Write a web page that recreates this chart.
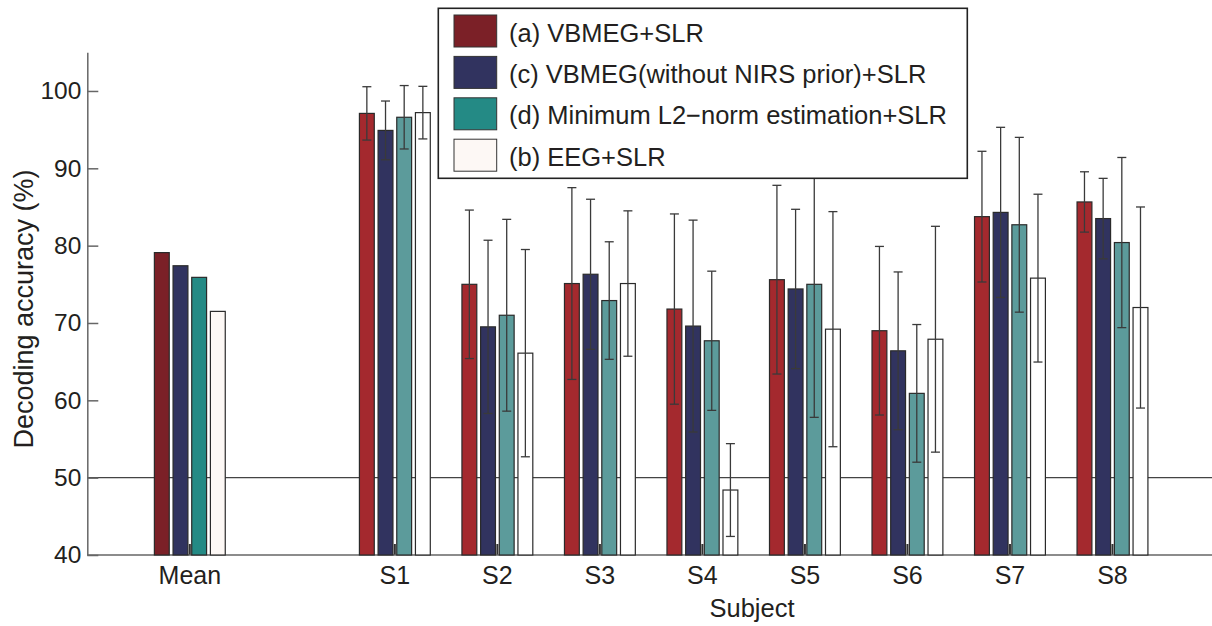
<!DOCTYPE html>
<html>
<head>
<meta charset="utf-8">
<script src="https://cdn.jsdelivr.net/npm/d3@7"></script>
<style>
  body { margin: 0; background: #fff; }
  text { font-family: 'Liberation Sans', Arial, Helvetica, sans-serif; fill: #231f20; }
</style>
</head>
<body>
<div id="chart"></div>
<script>
// categories on the x axis (the blank slot leaves the gap after Mean)
const categories = ['Mean', ' ', 'S1', 'S2', 'S3', 'S4', 'S5', 'S6', 'S7', 'S8']
const subjects = ['S1', 'S2', 'S3', 'S4', 'S5', 'S6', 'S7', 'S8']

const methods = [
  '(a) VBMEG+SLR',
  '(c) VBMEG(without NIRS prior)+SLR',
  '(d) Minimum L2\u2212norm estimation+SLR',
  '(b) EEG+SLR'
]

// mean accuracy over subjects, one per method
const meanAccuracy = [79.1, 77.4, 75.9, 71.5]

// per subject accuracy (%)
const vbmeg = [97.1, 75.0, 75.1, 71.8, 75.6, 69.0, 83.75, 85.65]
const vbmegNoPrior = [94.9, 69.5, 76.3, 69.6, 74.4, 66.4, 84.3, 83.5]
const minNorm = [96.6, 71.0, 72.9, 67.7, 75.0, 60.9, 82.7, 80.4]
const eeg = [97.2, 66.1, 75.1, 48.4, 69.2, 67.9, 75.8, 72.0]

// standard deviations (error bars)
const vbmegSd = [3.45, 9.6, 12.4, 12.3, 12.2, 10.9, 8.45, 3.9]
const vbmegNoPriorSd = [3.8, 11.2, 9.7, 13.7, 10.3, 10.2, 11.0, 5.2]
const minNormSd = [4.1, 12.4, 7.6, 9.0, 17.2, 8.9, 11.3, 11.0]
const eegSd = [3.4, 13.4, 9.4, 6.0, 15.2, 14.6, 10.85, 13.0]

const yTicks = [40, 50, 60, 70, 80, 90, 100]
const chanceLevel = 50

const meanColors = ['#7b2027', '#31335f', '#248a85', '#fdf8f5']
const subjectColors = ['#a4292e', '#31335f', '#5c9b9b', '#ffffff']

const width = 1212
const height = 626
const plot = { left: 87.3, right: 1215, top: 52.3, bottom: 555 }

const svg = d3
  .select('#chart')
  .append('svg')
  .attr('width', width)
  .attr('height', height)

const xPositionScale = d3
  .scaleBand()
  .domain(categories)
  .range([plot.left, plot.right])
  .paddingOuter(0.5)
  .paddingInner(0)

const groupWidth = xPositionScale.bandwidth() * 0.7285
const methodScale = d3
  .scaleBand()
  .domain(d3.range(methods.length))
  .range([-groupWidth / 2, groupWidth / 2])
  .paddingInner(0.14)
  .paddingOuter(0.07)

const yPositionScale = d3
  .scaleLinear()
  .domain([40, 105])
  .range([plot.bottom, plot.top])

// build the rows
const seriesValues = [vbmeg, vbmegNoPrior, minNorm, eeg]
const seriesSd = [vbmegSd, vbmegNoPriorSd, minNormSd, eegSd]

const bars = []
meanAccuracy.forEach((v, m) => {
  bars.push({ category: 'Mean', method: m, value: v, sd: null, color: meanColors[m] })
})
subjects.forEach((s, i) => {
  seriesValues.forEach((vals, m) => {
    bars.push({ category: s, method: m, value: vals[i], sd: seriesSd[m][i], color: subjectColors[m] })
  })
})

function barCenter(d) {
  return xPositionScale(d.category) + xPositionScale.bandwidth() / 2 +
    methodScale(d.method) + methodScale.bandwidth() / 2
}

// chance level line
svg
  .append('line')
  .attr('x1', plot.left)
  .attr('x2', width)
  .attr('y1', yPositionScale(chanceLevel))
  .attr('y2', yPositionScale(chanceLevel))
  .attr('stroke', '#444')
  .attr('stroke-width', 1.2)

// x axis (ticks point inward)
const labelled = categories.filter(c => c.trim() !== '')
const xAxis = d3
  .axisBottom(xPositionScale)
  .tickValues(labelled)
  .tickSizeInner(-11)
  .tickSizeOuter(0)
  .tickPadding(11)

const xAxisG = svg
  .append('g')
  .attr('class', 'axis x-axis')
  .attr('transform', 'translate(0,' + plot.bottom + ')')
  .call(xAxis)
xAxisG.select('.domain').remove()
xAxisG.selectAll('.tick line').attr('stroke', '#333').attr('stroke-width', 2)
xAxisG.selectAll('.tick text').attr('font-size', 25).attr('fill', '#231f20')

svg
  .append('line')
  .attr('x1', plot.left)
  .attr('x2', width)
  .attr('y1', plot.bottom)
  .attr('y2', plot.bottom)
  .attr('stroke', '#666')
  .attr('stroke-width', 1.5)

// bars
svg
  .selectAll('.bar')
  .data(bars)
  .enter()
  .append('rect')
  .attr('class', 'bar')
  .attr('x', d => barCenter(d) - methodScale.bandwidth() / 2 + 0.6)
  .attr('width', methodScale.bandwidth() - 1.2)
  .attr('y', d => yPositionScale(d.value))
  .attr('height', d => yPositionScale(40) - yPositionScale(d.value))
  .attr('fill', d => d.color)
  .attr('stroke', '#2a2a2a')
  .attr('stroke-width', 1.2)

// error bars
const withSd = bars.filter(d => d.sd !== null)
const capHalf = 4.5

const err = svg
  .selectAll('.err')
  .data(withSd)
  .enter()
  .append('g')
  .attr('class', 'err')
  .attr('stroke', '#3a3a3a')
  .attr('stroke-width', 1.3)

err
  .append('line')
  .attr('x1', d => barCenter(d))
  .attr('x2', d => barCenter(d))
  .attr('y1', d => yPositionScale(d.value + d.sd))
  .attr('y2', d => yPositionScale(d.value - d.sd))

err
  .append('line')
  .attr('x1', d => barCenter(d) - capHalf)
  .attr('x2', d => barCenter(d) + capHalf)
  .attr('y1', d => yPositionScale(d.value + d.sd))
  .attr('y2', d => yPositionScale(d.value + d.sd))

err
  .append('line')
  .attr('x1', d => barCenter(d) - capHalf)
  .attr('x2', d => barCenter(d) + capHalf)
  .attr('y1', d => yPositionScale(d.value - d.sd))
  .attr('y2', d => yPositionScale(d.value - d.sd))

// y axis
const yAxis = d3
  .axisLeft(yPositionScale)
  .tickValues(yTicks)
  .tickSizeInner(-11)
  .tickSizeOuter(0)
  .tickPadding(6)

const yAxisG = svg
  .append('g')
  .attr('class', 'axis y-axis')
  .attr('transform', 'translate(' + plot.left + ',0)')
  .call(yAxis)
yAxisG.select('.domain').attr('stroke', '#666').attr('stroke-width', 1.5)
yAxisG.selectAll('.tick line').attr('stroke', '#666').attr('stroke-width', 1.5)
yAxisG.selectAll('.tick text').attr('font-size', 24.5).attr('fill', '#231f20')

// axis titles
svg
  .append('text')
  .attr('transform', 'translate(33,309) rotate(-90)')
  .attr('text-anchor', 'middle')
  .attr('font-size', 27)
  .text('Decoding accuracy (%)')

svg
  .append('text')
  .attr('x', 752)
  .attr('y', 617)
  .attr('text-anchor', 'middle')
  .attr('font-size', 25.5)
  .text('Subject')

// legend
const legend = svg.append('g').attr('class', 'legend')

legend
  .append('rect')
  .attr('x', 438.3)
  .attr('y', 8.3)
  .attr('width', 529)
  .attr('height', 170)
  .attr('fill', '#fff')
  .attr('stroke', '#222')
  .attr('stroke-width', 1.6)

const rowStep = 41.4
const legendRows = legend
  .selectAll('.legend-row')
  .data(methods)
  .enter()
  .append('g')
  .attr('class', 'legend-row')
  .attr('transform', (d, i) => 'translate(454,' + (15 + i * rowStep) + ')')

legendRows
  .append('rect')
  .attr('width', 42.7)
  .attr('height', 32)
  .attr('fill', (d, i) => meanColors[i])
  .attr('stroke', '#333')
  .attr('stroke-width', 1)

legendRows
  .append('text')
  .attr('x', 55)
  .attr('y', 26.5)
  .attr('font-size', 25.5)
  .text(d => d)
</script>
</body>
</html>
